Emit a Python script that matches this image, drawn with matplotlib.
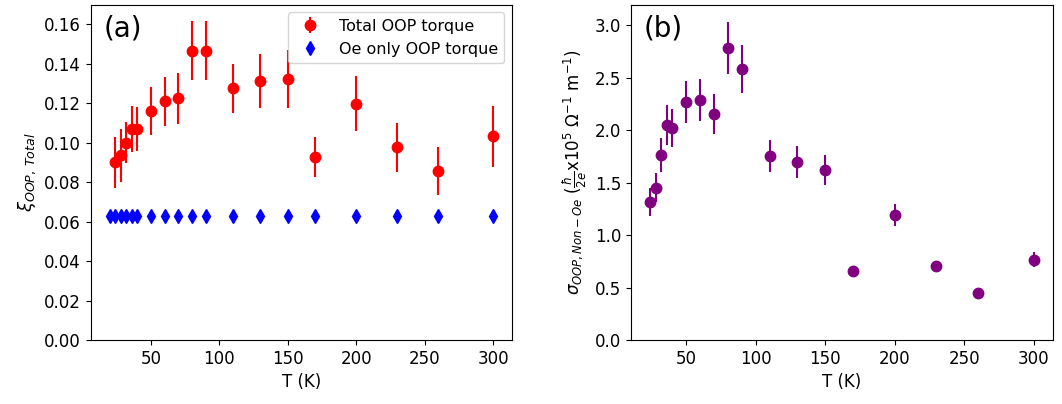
import matplotlib
matplotlib.use("Agg")
import matplotlib.pyplot as plt

# temperatures (K)
T_oe = [20, 24, 28, 32, 36, 40, 50, 60, 70, 80, 90, 110, 130, 150, 170, 200, 230, 260, 300]
T = [24, 28, 32, 36, 40, 50, 60, 70, 80, 90, 110, 130, 150, 170, 200, 230, 260, 300]

# panel (a): total OOP torque efficiency
xi_total = [0.090, 0.0935, 0.100, 0.107, 0.107, 0.116, 0.121, 0.1225, 0.1465, 0.1465,
            0.1275, 0.1313, 0.1323, 0.0928, 0.1198, 0.0977, 0.0857, 0.1033]
xi_total_err = [0.013, 0.0135, 0.0105, 0.0117, 0.011, 0.012, 0.0125, 0.013, 0.015, 0.015,
                0.0125, 0.0135, 0.0146, 0.0103, 0.0138, 0.0125, 0.012, 0.0155]
xi_oe = [0.063] * len(T_oe)

# panel (b): non-Oersted spin Hall conductivity
sigma = [1.317, 1.454, 1.766, 2.049, 2.02, 2.272, 2.288, 2.157, 2.784, 2.584,
         1.756, 1.699, 1.619, 0.662, 1.196, 0.703, 0.445, 0.767]
sigma_err = [0.13, 0.14, 0.16, 0.19, 0.18, 0.20, 0.20, 0.19, 0.25, 0.23,
             0.155, 0.15, 0.145, 0.03, 0.105, 0.04, 0.02, 0.07]

plt.rcParams['font.size'] = 12

fig = plt.figure(figsize=(10.62, 4.04), dpi=100)
ax1 = fig.add_axes([90.7 / 1062, 64 / 404, 421.6 / 1062, 335.5 / 404])
ax2 = fig.add_axes([631 / 1062, 64 / 404, 421.7 / 1062, 335.5 / 404])

h1 = ax1.errorbar(T, xi_total, yerr=xi_total_err, fmt='o', color='red', ms=7.5)
h2, = ax1.plot(T_oe, xi_oe, 'd', color='blue', ms=7.5)
ax1.set_ylim(0, 0.17)
ax1.set_xticks([50, 100, 150, 200, 250, 300])
ax1.set_xlabel('T (K)')
ax1.set_ylabel(r'$\xi_{OOP,\,Total}$', fontsize=13)
ax1.text(0.03, 0.97, '(a)', transform=ax1.transAxes, fontsize=20, va='top', ha='left')
ax1.legend([h1, h2], ['Total OOP torque', 'Oe only OOP torque'], loc='upper right', fontsize=11.5)

ax2.errorbar(T, sigma, yerr=sigma_err, fmt='o', color='purple', ms=7.5)
ax2.set_ylim(0, 3.2)
ax2.set_xticks([50, 100, 150, 200, 250, 300])
ax2.set_xlabel('T (K)')
ax2.set_ylabel(r'$\sigma_{OOP,Non-Oe}$ ($\frac{\hbar}{2e}$x10$^5$ $\Omega^{-1}$ m$^{-1}$)', fontsize=12)
ax2.text(0.03, 0.97, '(b)', transform=ax2.transAxes, fontsize=20, va='top', ha='left')

fig.savefig('out.png', dpi=100)
